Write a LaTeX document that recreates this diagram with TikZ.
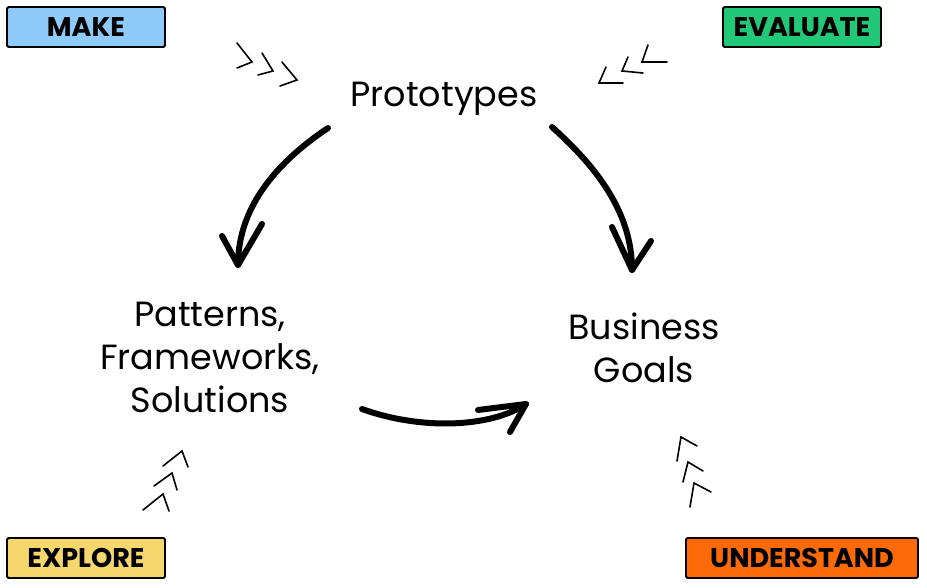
\documentclass[tikz,border=0pt]{standalone}
\usepackage{fontspec}
\setmainfont{Poppins}
\newfontfamily\tagfont{Poppins}[UprightFont=* Bold]
\definecolor{cblue}{RGB}{142,202,250}
\definecolor{cgreen}{RGB}{34,199,120}
\definecolor{cyellow}{RGB}{245,215,110}
\definecolor{corange}{RGB}{252,106,8}
\tikzset{
  tagbox/.style={draw=black, line width=1.8pt, rounded corners=1.5pt, inner sep=0pt, font=\tagfont\fontsize{27}{27}\selectfont},
  lbl/.style={align=center, font=\fontsize{35}{43}\selectfont, inner sep=0pt},
  brush/.style={line width=6pt, line cap=round, line join=round},
  chev/.style={line width=1.6pt, line cap=round, line join=miter}
}
\begin{document}
\begin{tikzpicture}[x=1pt,y=-1pt]
\useasboundingbox[fill=white] (0,0) rectangle (927,587);
% tag boxes
\node[tagbox, fill=cblue, minimum width=158pt, minimum height=40pt] (make) at (86,27) {MAKE};
\node[tagbox, fill=cgreen, minimum width=158pt, minimum height=40pt] (eval) at (802,27) {EVALUATE};
\node[tagbox, fill=cyellow, minimum width=158pt, minimum height=40pt] (expl) at (86,558) {EXPLORE};
\node[tagbox, fill=corange, minimum width=232pt, minimum height=40pt] (und) at (802,558) {UNDERSTAND};
% labels
\node[lbl] (proto) at (444,99) {Prototypes};
\node[lbl] (patt) at (210,357) {Patterns,\\Frameworks,\\Solutions};
\node[lbl] (goals) at (644,348) {Business\\Goals};
% arrows
\coordinate (a1s) at (328,128); \coordinate (a1t) at (238,265);
\draw[brush] (a1s) .. controls (280,160) and (238,205) .. (a1t);
\draw[brush] (222,236) -- (a1t) -- (262,224);
\coordinate (a2s) at (552,127); \coordinate (a2t) at (632,270);
\draw[brush] (a2s) .. controls (600,170) and (632,215) .. (a2t);
\draw[brush] (612,227) -- (a2t) -- (651,241);
\coordinate (a3s) at (362,409); \coordinate (a3t) at (526,404);
\draw[brush] (a3s) .. controls (420,430) and (490,428) .. (a3t);
\draw[brush] (478,410) -- (a3t) -- (510,432);
% chevrons
\draw[chev] (237,43) -- (252,62) -- (237,68);
\draw[chev] (262,53) -- (273,71) -- (258,75);
\draw[chev] (282,62) -- (297,80) -- (280,86);
\draw[chev] (648,45) -- (642,62) -- (667,62);
\draw[chev] (628,57) -- (622,71) -- (643,73);
\draw[chev] (606,67) -- (599,83) -- (623,83);
\draw[chev] (163,466) -- (182,451) -- (188,467);
\draw[chev] (154,486) -- (172,473) -- (177,490);
\draw[chev] (143,510) -- (163,494) -- (169,511);
\draw[chev] (677,461) -- (681,437) -- (697,446);
\draw[chev] (683,482) -- (688,462) -- (703,471);
\draw[chev] (690,507) -- (694,483) -- (711,492);
\end{tikzpicture}
\end{document}
